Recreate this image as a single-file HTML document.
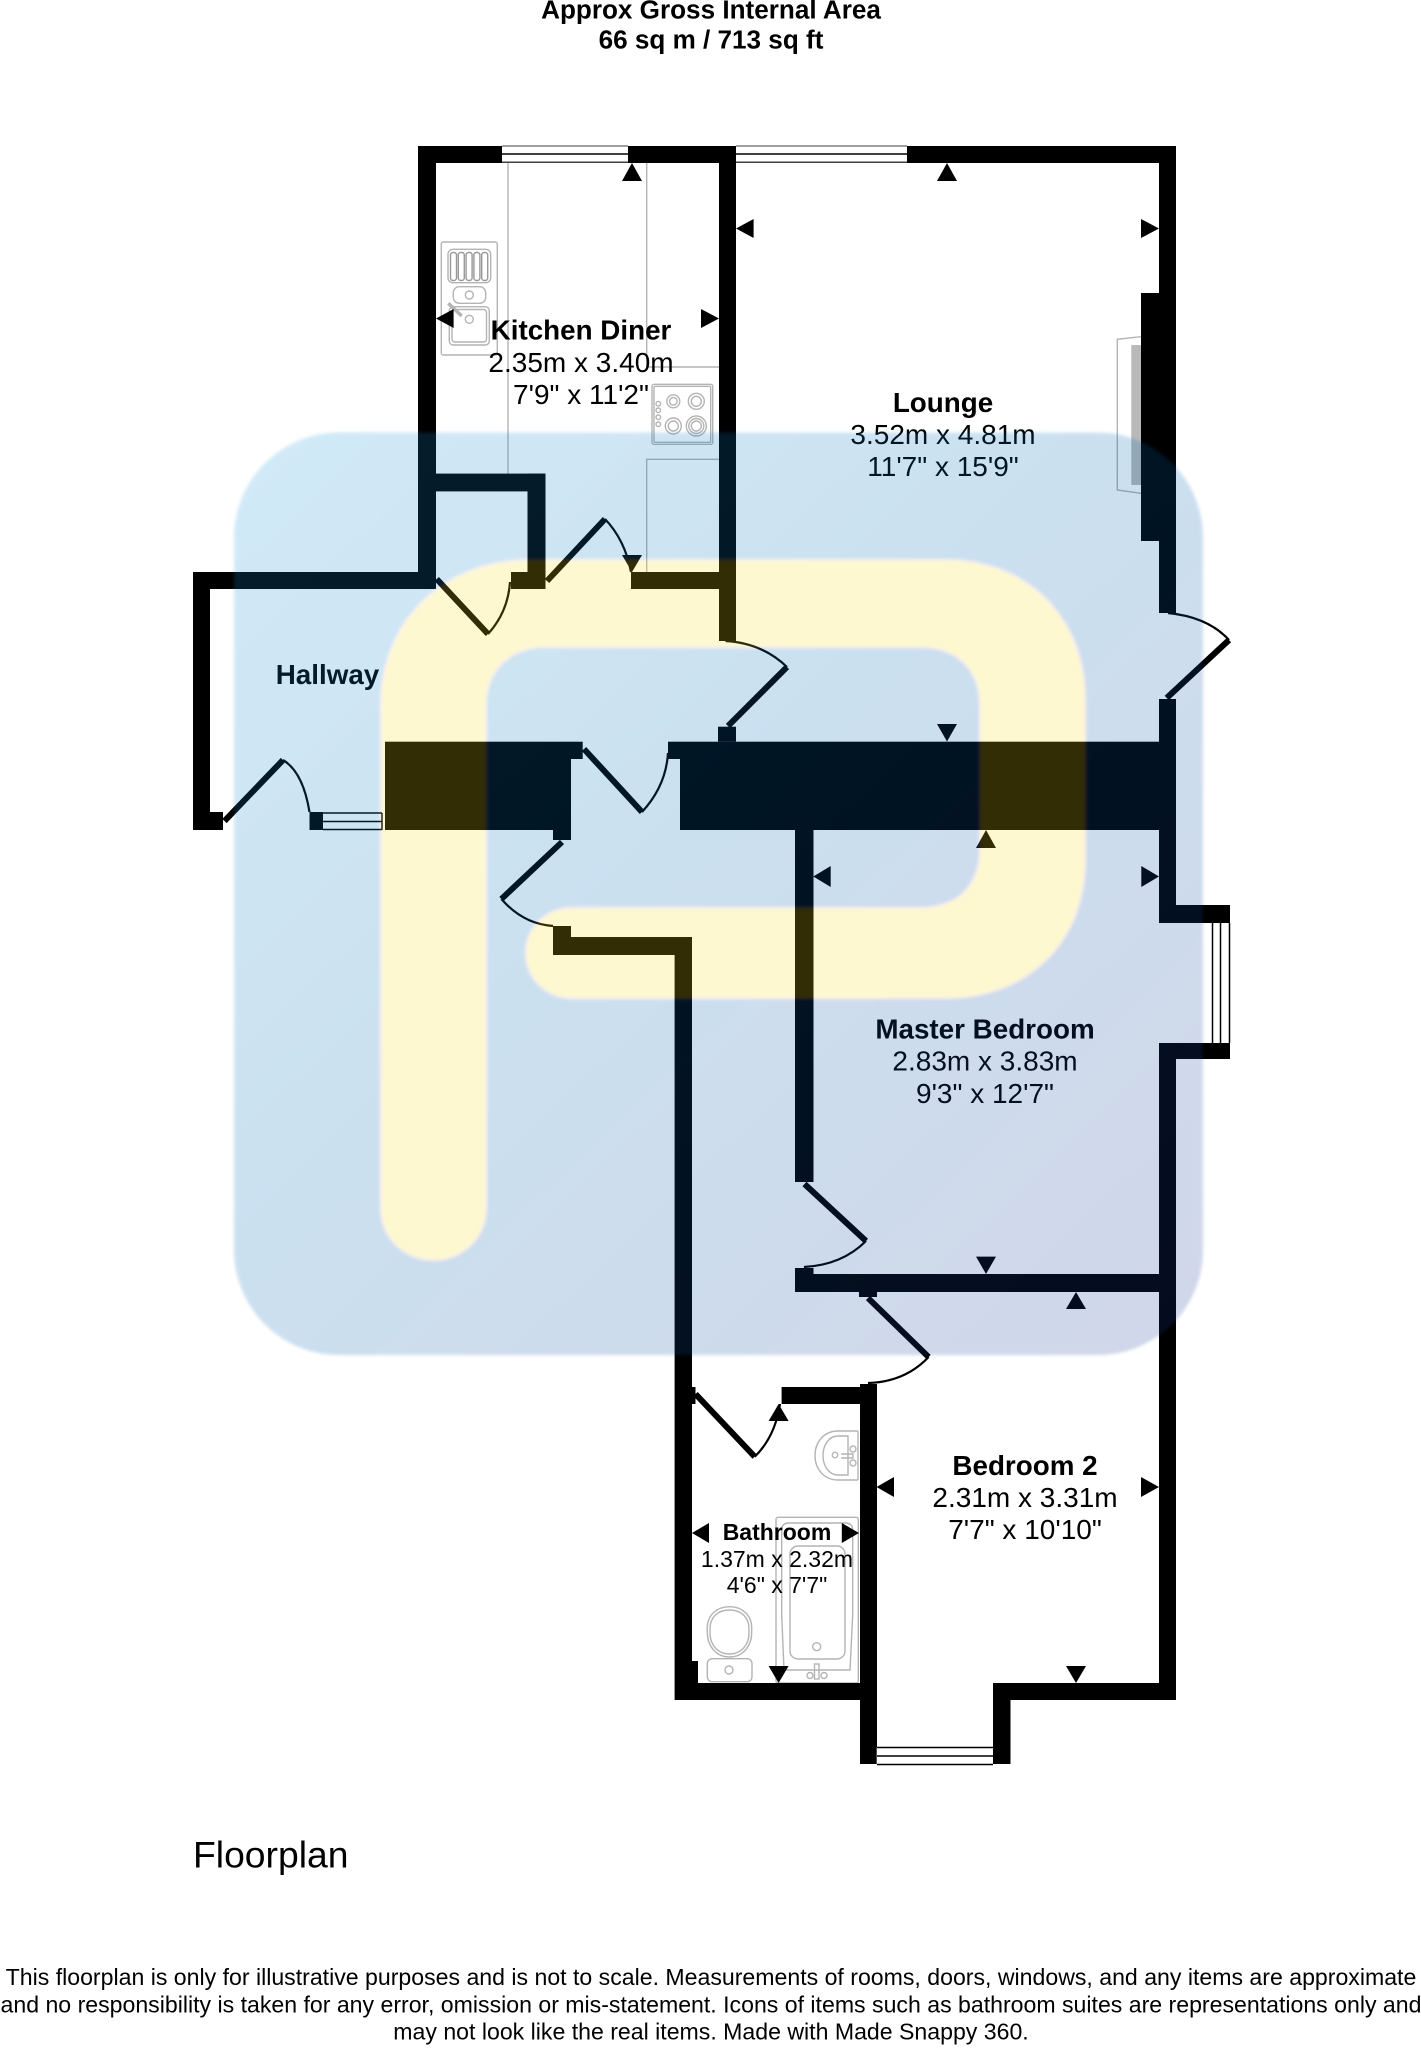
<!DOCTYPE html>
<html><head><meta charset="utf-8"><title>Floorplan</title>
<style>html,body{margin:0;padding:0;background:#fff;width:1421px;height:2048px;overflow:hidden}svg{display:block}text{font-family:"Liberation Sans",Arial,sans-serif;fill:#000}.b{font-weight:bold}</style></head>
<body>
<svg xmlns="http://www.w3.org/2000/svg" width="1421" height="2048" viewBox="0 0 1421 2048">
<defs>
<linearGradient id="g" x1="0" y1="0" x2="1" y2="1"><stop offset="0" stop-color="rgb(35,155,220)"/><stop offset=".45" stop-color="rgb(0,105,180)"/><stop offset="1" stop-color="rgb(30,55,150)"/></linearGradient>
<filter id="bl" x="-5%" y="-5%" width="110%" height="110%"><feGaussianBlur stdDeviation="1.5"/></filter>
</defs>
<rect width="1421" height="2048" fill="#fff"/>
<text class="b" x="711" y="18.5" font-size="26.1" text-anchor="middle">Approx Gross Internal Area</text>
<text class="b" x="711" y="48.5" font-size="26.1" text-anchor="middle">66 sq m / 713 sq ft</text>

<!-- fittings -->
<g fill="none" stroke="#b4b4b4" stroke-width="1.4">
<path d="M508 163V474M646.7 163V367H719M646.7 572V459.3H719"/>
<path d="M1141 336.7L1117.3 339.3V490L1141 493.3"/>
<rect x="441.3" y="242" width="56" height="113" rx="2"/>
<rect x="448" y="249.3" width="42.7" height="33.4" rx="5"/>
<rect x="450.5" y="252.5" width="6" height="28" rx="2.500" stroke="#999"/>
<rect x="458.300" y="252.5" width="6" height="28" rx="2.500" stroke="#999"/>
<rect x="466.100" y="252.5" width="6" height="28" rx="2.500" stroke="#999"/>
<rect x="473.900" y="252.5" width="6" height="28" rx="2.500" stroke="#999"/>
<rect x="481.700" y="252.5" width="6" height="28" rx="2.500" stroke="#999"/>
<rect x="453.300" y="286.700" width="32.400" height="16.600" rx="6"/>
<rect x="449.300" y="306.700" width="40" height="38.300" rx="4"/>
<rect x="452" y="309.500" width="34.500" height="32.500" rx="3"/>
<circle cx="469.300" cy="295" r="4"/><circle cx="469.300" cy="319.300" r="4"/>
<path d="M448.300 303.300L461.700 316" stroke-width="3.500"/>
<rect x="652" y="384.300" width="60.700" height="60" rx="2"/>
<rect x="654" y="386.300" width="56.700" height="56" rx="1"/>
<circle cx="673.300" cy="401.300" r="6.500"/><circle cx="673.300" cy="401.300" r="3.800"/>
<circle cx="696.300" cy="401.300" r="8"/><circle cx="696.300" cy="401.300" r="5"/>
<circle cx="673.300" cy="426" r="8"/><circle cx="673.300" cy="426" r="5"/>
<circle cx="696.300" cy="426" r="10"/><circle cx="696.300" cy="426" r="7.500"/><circle cx="696.300" cy="426" r="5"/>
<circle cx="658.300" cy="403.700" r="2.300"/><circle cx="658.300" cy="410.300" r="2.300"/><circle cx="658.300" cy="417.300" r="2.300"/><circle cx="658.300" cy="424.300" r="2.300"/>
<!-- basin -->
<path d="M858 1431H838C824 1431 815 1442 815 1455.500S824 1480 838 1480H858"/>
<path d="M848 1436H838C829 1436 823 1445 823 1455.500S829 1475 838 1475H848Z"/>
<path d="M841 1454H853V1458H841M858 1431V1480"/>
<circle cx="835" cy="1455" r="2.700"/><circle cx="853" cy="1449" r="3"/><circle cx="853" cy="1463" r="3"/>
<!-- bath -->
<rect x="776" y="1517.300" width="82.300" height="165.700" rx="2"/>
<path d="M781.700 1600V1530Q781.700 1523 789 1523H845Q852.700 1523 852.700 1530V1615L850 1670H784L781.700 1615Z"/>
<rect x="790" y="1546" width="55" height="113" rx="8"/>
<circle cx="816.700" cy="1646.700" r="4"/>
<rect x="814.500" y="1664" width="4.500" height="15"/><circle cx="810" cy="1675.500" r="3"/><circle cx="824" cy="1675.500" r="3"/>
<!-- toilet -->
<path d="M707.300 1632V1628C707.300 1615 717 1606.700 729.500 1606.700S751.700 1615 751.700 1628V1632C751.700 1646 743 1657 729.500 1657S707.300 1646 707.300 1632Z"/>
<path d="M710 1633V1629C710 1617 718 1610 729.500 1610S749 1617 749 1629V1633C749 1645 741 1654 729.500 1654S710 1645 710 1633Z"/>
<rect x="707.300" y="1658.700" width="44.700" height="23" rx="5"/>
<circle cx="729" cy="1670" r="4"/>
</g>
<rect x="1131.300" y="345" width="9.700" height="140" fill="#b9b9b9"/>

<!-- walls -->
<g fill="#000">
<rect x="418" y="146" width="758" height="17"/>
<rect x="418" y="146" width="18" height="443"/>
<rect x="719" y="146" width="17" height="495"/>
<rect x="1159" y="146" width="17" height="467"/>
<rect x="1141" y="293" width="18" height="248"/>
<rect x="436" y="473.600" width="109.400" height="17.800"/>
<rect x="527.500" y="473.600" width="18" height="115.400"/>
<rect x="511" y="572" width="34.500" height="17"/>
<rect x="631" y="572" width="88" height="17"/>
<rect x="193" y="572" width="243" height="17"/>
<rect x="193" y="572" width="17" height="258"/>
<rect x="193" y="812" width="30" height="18"/>
<rect x="309.500" y="812" width="13.500" height="18"/>
<rect x="385" y="741.700" width="186" height="88.300"/>
<rect x="571" y="741.700" width="11.700" height="17.300"/>
<rect x="553" y="830" width="18" height="10"/>
<rect x="680" y="741.700" width="496" height="88.300"/>
<rect x="668" y="741.700" width="12" height="17.300"/>
<rect x="718" y="726.700" width="18" height="15"/>
<rect x="1159" y="699" width="17" height="224"/>
<rect x="1159" y="905" width="71" height="18"/>
<rect x="1159" y="1043" width="71" height="16"/>
<rect x="1159" y="1043" width="17" height="657"/>
<rect x="795" y="830" width="18.500" height="352"/>
<rect x="795" y="1274" width="381" height="18"/>
<rect x="795" y="1268" width="18.500" height="6"/>
<rect x="859" y="1292" width="18" height="5"/>
<rect x="553" y="926" width="18" height="11"/>
<rect x="553" y="937" width="139" height="18"/>
<rect x="674.600" y="937" width="17.400" height="763"/>
<rect x="781.600" y="1387" width="78.400" height="17"/>
<rect x="860" y="1384" width="17" height="380"/>
<rect x="675" y="1683" width="185" height="17"/>
<rect x="993" y="1683" width="183" height="17"/>
<rect x="993" y="1683" width="17.500" height="81"/>
<rect x="692" y="1387" width="3.500" height="17"/>
<rect x="692" y="1661" width="6" height="22"/>
</g>

<!-- windows -->
<g fill="#fff">
<rect x="502" y="146" width="126" height="16.500"/>
<rect x="736" y="146" width="171" height="16.500"/>
<rect x="876.700" y="1747" width="116.300" height="18"/>
<rect x="1212" y="923" width="18" height="120"/>
</g>
<g fill="none" stroke="#000" stroke-width="1.500">
<path d="M502 154H628M736 154H907M323 813H382M323 821.500H382M323 829.500H382M382 813V830M877 1747.500H993M877 1756H993M877 1764.500H993M1212.500 923V1043M1220.500 923V1043M1229.500 923V1043"/>
</g>
<g fill="none" stroke="#666" stroke-width="1.200">
<path d="M502 146H628M502 162H628M736 146H907M736 162H907"/>
</g>

<!-- doors -->
<g fill="none" stroke="#000" stroke-width="6">
<path d="M224.500 821L283 760M436.700 579L488 634M547 581L605 519M728 726L787 667M1166.700 698L1229 640M584 749L642 812M562 842L501.400 899M804.500 1184L866 1241M868 1298L928.600 1357M695.500 1394L754.700 1456.700"/>
</g>
<g fill="none" stroke="#000" stroke-width="2.200">
<path d="M283 760Q303 772 309.500 812M488 634Q508 612 510 582M605 519Q625 540 631 572M787 667Q762 643 725.500 641M1229 640Q1208 617 1168 613M642 812Q666 786 668 753M501.400 899Q523 924 553 926M866 1241Q842 1265 804 1267M928.600 1357Q905 1382 868 1383M754.700 1456.700Q775 1437 780 1404"/>
</g>

<!-- arrows -->
<g fill="#000">
<path d="M632 163L642 181H622ZM947 163L957 181H937ZM986 830L996 848H976ZM1076 1292L1086 1309H1066ZM778.600 1404L788.600 1421H768.600Z"/>
<path d="M632 572L642 555H622ZM947 741.500L957 724H937ZM986 1274L996 1256.600H976ZM1076 1683L1086 1666H1066ZM778.600 1683L788.600 1666H768.600Z"/>
<path d="M736 228.500L753.600 219V238ZM436 318.500L453.600 309V328ZM813.300 876.500L830.700 866V887ZM876.600 1487L894 1477V1497ZM692 1533L709 1523V1543Z"/>
<path d="M1159 228.500L1141 219V238ZM719 318.500L701 309V328ZM1159 876.500L1141.300 866V887ZM1159 1487L1141 1477V1497ZM859 1533L841.800 1523V1543Z"/>
</g>

<!-- labels -->
<g font-size="28" text-anchor="middle">
<text class="b" x="581" y="339.500" font-size="27.800">Kitchen Diner</text><text x="581" y="371.800">2.35m x 3.40m</text><text x="581" y="404">7'9" x 11'2"</text>
<text class="b" x="943" y="412" font-size="27.800">Lounge</text><text x="943" y="444">3.52m x 4.81m</text><text x="943" y="476">11'7" x 15'9"</text>
<text class="b" x="327.500" y="684" font-size="27.800">Hallway</text>
<text class="b" x="985" y="1038.500" font-size="27.800">Master Bedroom</text><text x="985" y="1070.600">2.83m x 3.83m</text><text x="985" y="1102.800">9'3" x 12'7"</text>
<text class="b" x="1025" y="1475" font-size="27.800">Bedroom 2</text><text x="1025" y="1507">2.31m x 3.31m</text><text x="1025" y="1539">7'7" x 10'10"</text>
</g>
<g font-size="23" text-anchor="middle">
<text class="b" x="777" y="1540">Bathroom</text><text x="777" y="1567">1.37m x 2.32m</text><text x="777" y="1593">4'6" x 7'7"</text>
</g>
<text x="193" y="1867.500" font-size="37.300">Floorplan</text>
<g font-size="23.100" text-anchor="middle">
<text x="711" y="1985">This floorplan is only for illustrative purposes and is not to scale. Measurements of rooms, doors, windows, and any items are approximate</text>
<text x="711" y="2012.500">and no responsibility is taken for any error, omission or mis-statement. Icons of items such as bathroom suites are representations only and</text>
<text x="711" y="2039.500">may not look like the real items. Made with Made Snappy 360.</text>
</g>

<!-- watermark -->
<g opacity=".2" filter="url(#bl)">
<rect x="234" y="432.500" width="969" height="922.500" rx="105" fill="url(#g)"/>
<path fill="rgb(248,222,20)" d="M381 1208V705C381 620 445 560 530 560H945C1030 560 1085 620 1085 700V860C1085 940 1030 998 945 998H572C546 998 526 978 526 953S546 908 572 908H920C958 908 980 885 980 850V705C980 670 958 647 920 647H545C510 647 486 670 486 705V1208C486 1238 462 1260 433.500 1260S381 1238 381 1208Z"/>
</g>
</svg>
</body></html>
